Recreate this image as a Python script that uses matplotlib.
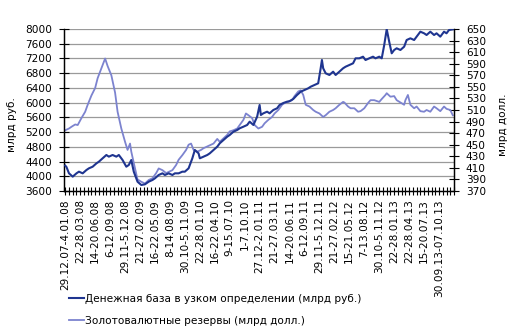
import matplotlib
matplotlib.use("Agg")
import matplotlib.pyplot as plt
import matplotlib.transforms as mtransforms

# недели от начала периода (29.12.07) и значения рядов
base_weeks = [0, 1, 3, 6, 9, 11, 14, 17, 19, 22, 25, 27, 30, 33, 35, 38, 41, 43, 46, 49,
              51, 53, 55, 58, 61, 64, 67, 70, 72, 75, 78, 80, 83, 86, 88, 91, 94, 96, 99,
              102, 104, 107, 108, 111, 114, 116, 119, 122, 124, 127, 130, 132, 135, 138,
              140, 143, 146, 148, 151, 154, 156, 157, 159, 162, 164, 167, 170, 172, 175,
              178, 180, 183, 186, 189, 192, 195, 197, 200, 203, 205, 206, 207, 209, 212,
              215, 217, 220, 223, 225, 228, 231, 233, 236, 239, 241, 244, 247, 249, 252,
              254, 256, 258, 260, 262, 264, 266, 269, 272, 274, 277, 280, 282, 285, 288,
              290, 293, 296, 298, 301, 304, 306, 308, 311]
money_base = [4290, 4250, 4080, 3990, 4080, 4125, 4080, 4170, 4216, 4260, 4350, 4396,
              4488, 4578, 4533, 4578, 4533, 4578, 4442, 4260, 4306, 4442, 4125, 3853,
              3763, 3782, 3853, 3899, 3945, 4035, 4080, 4035, 4080, 4035, 4080, 4080,
              4125, 4125, 4216, 4488, 4714, 4623, 4488, 4533, 4578, 4623, 4714, 4804,
              4895, 4985, 5075, 5121, 5211, 5257, 5303, 5347, 5393, 5483, 5393, 5618,
              5936, 5664, 5710, 5754, 5710, 5800, 5846, 5936, 5990, 6026, 6040, 6099,
              6207, 6298, 6343, 6389, 6433, 6479, 6525, 6933, 7158, 6933, 6797, 6751,
              6841, 6751, 6841, 6933, 6976, 7022, 7068, 7204, 7204, 7248, 7158, 7204,
              7248, 7204, 7248, 7204, 7565, 7995, 7656, 7340, 7430, 7476, 7430, 7520,
              7701, 7747, 7701, 7792, 7927, 7883, 7837, 7927, 7837, 7883, 7792, 7927,
              7883, 7973, 7990]

res_weeks = [0, 3, 5, 8, 10, 13, 16, 18, 21, 24, 26, 29, 32, 34, 37, 40, 42, 45, 48, 50,
             52, 53, 56, 58, 61, 64, 67, 70, 73, 75, 78, 81, 83, 86, 89, 91, 94, 97, 99,
             101, 103, 106, 109, 111, 114, 117, 119, 122, 124, 127, 130, 132, 135, 138,
             140, 143, 145, 147, 150, 152, 155, 158, 160, 163, 166, 168, 171, 174, 176,
             179, 182, 184, 187, 189, 191, 193, 196, 199, 201, 204, 207, 209, 212, 215,
             217, 220, 223, 224, 227, 229, 232, 235, 237, 240, 243, 245, 248, 252, 254,
             257, 258, 261, 264, 266, 269, 272, 273, 275, 277, 280, 282, 285, 288, 290,
             293, 296, 298, 301, 304, 306, 309, 311]
reserves = [475, 478, 481, 485, 484, 496, 507, 519, 535, 548, 565, 582, 599, 586, 570,
            540, 507, 478, 455, 441, 452, 438, 409, 390, 386, 383, 389, 392, 401, 409,
            406, 401, 403, 406, 415, 424, 432, 441, 450, 452, 441, 438, 441, 444, 447,
            450, 452, 460, 455, 461, 467, 473, 475, 478, 484, 493, 504, 501, 496, 484,
            478, 481, 487, 493, 498, 504, 510, 519, 522, 524, 527, 534, 542, 544, 536,
            519, 516, 510, 507, 504, 498, 501, 507, 510, 513, 519, 524, 523, 516, 513,
            513, 507, 508, 513, 522, 527, 527, 524, 529, 536, 539, 533, 534, 527, 523,
            519, 527, 536, 519, 513, 516, 508, 507, 510, 507, 516, 513, 508, 516, 512,
            510, 501]

period_labels = ["29.12.07-4.01.08", "22-28.03.08", "14-20.06.08", "6-12.09.08",
                 "29.11-5.12.08", "21-27.02.09", "16-22.05.09", "8-14.08.09",
                 "30.10-5.11.09", "22-28.01.10", "16-22.04.10", "9-15.07.10",
                 "1-7.10.10", "27.12-2.01.11", "21-27.03.11", "14-20.06.11",
                 "6-12.09.11", "29.11-5.12.11", "21-27.02.12", "15-21.05.12",
                 "7-13.08.12", "30.10-5.11.12", "22-28.01.13", "22-28.04.13",
                 "15-20.07.13", "30.09.13-07.10.13"]

dark = "#1f3590"
light = "#7c83cf"
fs = 7.6

fig = plt.figure(figsize=(5.2, 3.36), dpi=100)
ax = fig.add_axes([64 / 520, 1 - 191 / 336, 390 / 520, 162 / 336])
ax2 = ax.twinx()
# левая ось поверх правой, чтобы тёмная линия была сверху
ax.set_zorder(2)
ax2.set_zorder(1)
ax.patch.set_visible(False)

ax.set_xlim(-1, 312)
ax.set_ylim(3600, 8000)
ax2.set_ylim(370, 650)

# сетка по левой шкале, рисуется под линией резервов
grid_tr = mtransforms.blended_transform_factory(ax2.transAxes, ax.transData)
for v in range(4000, 8001, 400):
    ax2.plot([0, 1], [v, v], transform=grid_tr, color="#9a9a9a", lw=0.9, zorder=0)

ax2.plot(res_weeks, reserves, color=light, lw=1.3, zorder=2)
ax.plot(base_weeks, money_base, color=dark, lw=1.5, zorder=3)

ax.set_yticks(range(3600, 8001, 400))
ax2.set_yticks(range(370, 651, 20))
ax.set_xticks(range(0, 313, 3))
ax.set_xticklabels([period_labels[i // 12] if i % 12 == 0 and i // 12 < len(period_labels) else ""
                    for i in range(0, 313, 3)], rotation=90)

ax.tick_params(axis="y", direction="inout", length=7, width=0.8, labelsize=fs, pad=5)
ax2.tick_params(axis="y", direction="inout", length=7, width=0.8, labelsize=fs, pad=5)
ax.tick_params(axis="x", direction="inout", length=6, width=0.8, labelsize=fs, pad=3)

for a in (ax, ax2):
    a.spines["top"].set_visible(False)
    for s in ("left", "right", "bottom"):
        a.spines[s].set_linewidth(0.9)

fig.text(12 / 520, 1 - 125 / 336, "млрд руб.", rotation=90, ha="center", va="center", fontsize=fs)
fig.text(503 / 520, 1 - 125 / 336, "млрд долл.", rotation=90, ha="center", va="center", fontsize=fs)

h1, = ax.plot([], [], color=dark, lw=1.5)
h2, = ax.plot([], [], color=light, lw=1.3)
fig.legend([h1, h2],
           ["Денежная база в узком определении (млрд руб.)",
            "Золотовалютные резервы (млрд долл.)"],
           loc="upper left", bbox_to_anchor=(69 / 520, 1 - 294 / 336),
           frameon=False, fontsize=fs, handlelength=1.4, handletextpad=0.15,
           labelspacing=1.15, borderpad=0, borderaxespad=0)

fig.savefig("out.png", dpi=100)
